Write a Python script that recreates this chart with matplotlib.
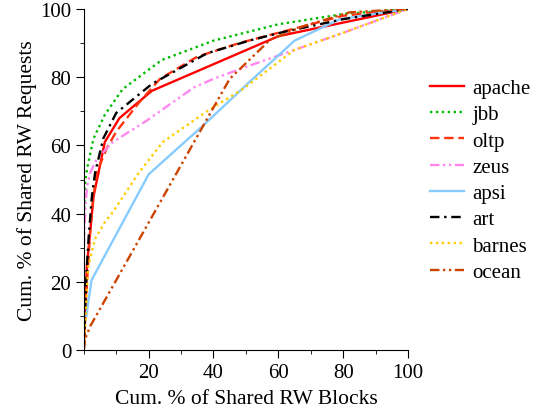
import matplotlib
matplotlib.use("Agg")
from matplotlib import pyplot as plt
from matplotlib.ticker import MultipleLocator, FixedLocator

plt.rcParams['font.family'] = ['Liberation Serif', 'DejaVu Serif']

apache_x = [0, 0.5, 1, 3, 6.5, 11, 21, 60, 80, 100]
apache_y = [0, 15, 25, 45, 61, 68, 76, 92, 96, 100]

jbb_x = [0, 0.5, 1.2, 3, 6.5, 12, 24, 40, 60, 80, 100]
jbb_y = [40, 50, 54, 62, 69, 76.5, 85, 90.7, 95.5, 98.5, 100]

oltp_x = [0, 0.5, 1, 2, 3, 4, 7, 10, 17, 23.5, 35, 48, 60, 80, 100]
oltp_y = [0, 10, 20, 35, 45, 52, 59, 64, 72.5, 79.5, 86, 90, 93, 98, 100]

zeus_x = [0, 0.5, 1, 2, 4, 9, 19, 34, 40, 50, 65, 80, 100]
zeus_y = [30, 42, 48, 52, 56, 61, 67, 77, 79.5, 83, 88, 93, 100]

apsi_x = [0.8, 1.3, 2.4, 20, 37, 51, 65, 79, 100]
apsi_y = [10, 13.5, 20.5, 51.5, 66, 78.5, 90.7, 97, 100]

art_x = [0, 0.5, 1, 1.5, 2.5, 3.5, 6, 10, 21, 38, 51, 60.5, 80, 100]
art_y = [0, 15, 25, 33, 45, 52, 62, 69.5, 78, 87, 90.7, 93, 97, 100]

barnes_x = [0, 0.3, 1.3, 3.4, 6.5, 9, 17, 24.4, 38, 49, 65, 80, 100]
barnes_y = [0, 5, 24, 32.5, 37.5, 40.5, 52, 61, 70, 76.5, 88, 93, 100]

ocean_x = [0, 0.3, 2, 45, 51, 57.5, 68, 82, 100]
ocean_y = [0, 3, 7, 79.5, 85, 91, 95, 99, 100]

series = [
    ("apache", apache_x, apache_y, "#ff0000", "-"),
    ("jbb", jbb_x, jbb_y, "#00bb00", (0, (1, 1.5))),
    ("oltp", oltp_x, oltp_y, "#ff3311", (0, (4, 2))),
    ("zeus", zeus_x, zeus_y, "#ff88ee", (0, (4, 1.5, 1, 1.5, 1, 1.5))),
    ("apsi", apsi_x, apsi_y, "#88ccff", "-"),
    ("art", art_x, art_y, "#000000", (0, (4, 2, 1, 2))),
    ("barnes", barnes_x, barnes_y, "#ffcc00", (0, (1, 1.5))),
    ("ocean", ocean_x, ocean_y, "#cc4400", (0, (4, 1.5, 1, 1.5, 1, 1.5))),
]

fig = plt.figure(figsize=(5.44, 4.14), dpi=100)
ax = fig.add_axes([0.154, 0.152, 0.596, 0.824])

for name, xs, ys, color, ls in series:
    ax.plot(xs, ys, color=color, linestyle=ls, linewidth=1.7, label=name)

ax.set_xlim(0, 100)
ax.set_ylim(0, 100)
ax.xaxis.set_major_locator(FixedLocator([20, 40, 60, 80, 100]))
ax.xaxis.set_minor_locator(MultipleLocator(10))
ax.yaxis.set_major_locator(MultipleLocator(20))
ax.yaxis.set_minor_locator(MultipleLocator(10))
ax.tick_params(which='both', direction='out', labelsize=15, pad=3)
ax.tick_params(which='major', length=6)
ax.tick_params(which='minor', length=3)
ax.spines['top'].set_visible(False)
ax.spines['right'].set_visible(False)

ax.set_xlabel("Cum. % of Shared RW Blocks", fontsize=15.5, labelpad=5)
ax.set_ylabel("Cum. % of Shared RW Requests", fontsize=15.5, labelpad=2)

ax.legend(loc='upper left', bbox_to_anchor=(0.79, 0.808), bbox_transform=fig.transFigure,
          frameon=False, fontsize=15, handlelength=1.65, labelspacing=0.32,
          handletextpad=0.4, borderpad=0, borderaxespad=0)

fig.savefig("out.png", dpi=100)
